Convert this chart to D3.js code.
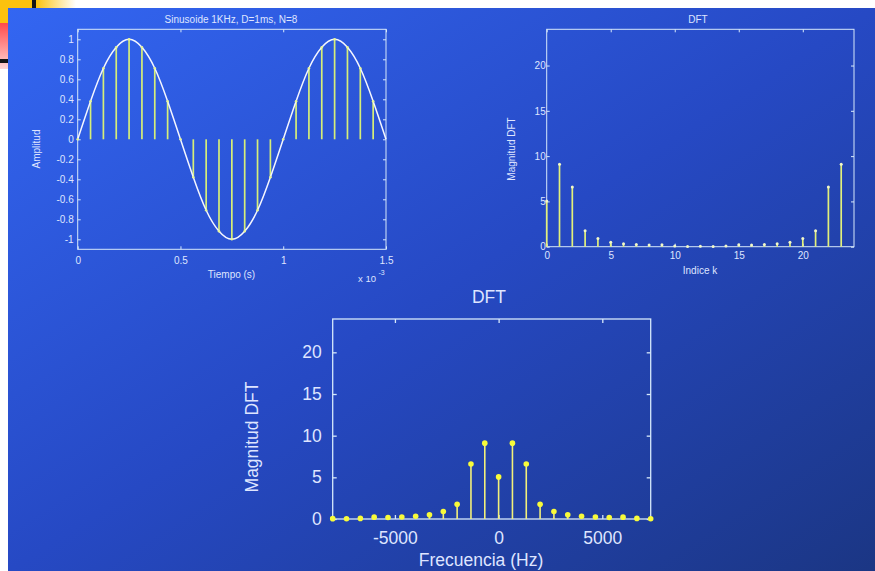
<!DOCTYPE html>
<html><head><meta charset="utf-8">
<script src="https://cdn.jsdelivr.net/npm/d3@7"></script>
<style>html,body{margin:0;padding:0;background:#fff;}svg{display:block;}</style>
</head><body>
<svg id="c" width="875" height="571"></svg>
<script>
// ---------- data ----------
const timeTicks = [0, 0.5, 1, 1.5];
const timeTickLabels = ["0", "0.5", "1", "1.5"];
const ampTicks = [-1, -0.8, -0.6, -0.4, -0.2, 0, 0.2, 0.4, 0.6, 0.8, 1];
const ampTickLabels = ["-1", "-0.8", "-0.6", "-0.4", "-0.2", "0", "0.2", "0.4", "0.6", "0.8", "1"];
const sampleTimes = [0, 0.0625, 0.125, 0.1875, 0.25, 0.3125, 0.375, 0.4375, 0.5, 0.5625, 0.625, 0.6875,
  0.75, 0.8125, 0.875, 0.9375, 1, 1.0625, 1.125, 1.1875, 1.25, 1.3125, 1.375, 1.4375];
const sampleValues = [0, 0.38, 0.71, 0.92, 1, 0.92, 0.71, 0.38, 0, -0.38, -0.71, -0.92,
  -1, -0.92, -0.71, -0.38, 0, 0.38, 0.71, 0.92, 1, 0.92, 0.71, 0.38];
const curveTimes = [0, 0.0625, 0.125, 0.1875, 0.25, 0.3125, 0.375, 0.4375, 0.5, 0.5625, 0.625, 0.6875,
  0.75, 0.8125, 0.875, 0.9375, 1, 1.0625, 1.125, 1.1875, 1.25, 1.3125, 1.375, 1.4375, 1.5];
const curveValues = [0, 0.38, 0.71, 0.92, 1, 0.92, 0.71, 0.38, 0, -0.38, -0.71, -0.92,
  -1, -0.92, -0.71, -0.38, 0, 0.38, 0.71, 0.92, 1, 0.92, 0.71, 0.38, 0];

const kIndex = [0,1,2,3,4,5,6,7,8,9,10,11,12,13,14,15,16,17,18,19,20,21,22,23];
const dftMag = [5.05, 9.1, 6.6, 1.76, 0.9, 0.5, 0.33, 0.24, 0.18, 0.22, 0.07, 0.03,
  0.04, 0.03, 0.07, 0.22, 0.18, 0.24, 0.33, 0.5, 0.9, 1.76, 6.6, 9.1];
const kTicks = [0, 5, 10, 15, 20];
const kTickLabels = ["0", "5", "10", "15", "20"];
const magTicks = [0, 5, 10, 15, 20];
const magTickLabels = ["0", "5", "10", "15", "20"];

const freqHz = [-8000, -7333.33, -6666.67, -6000, -5333.33, -4666.67, -4000, -3333.33, -2666.67, -2000,
  -1333.33, -666.67, 0, 666.67, 1333.33, 2000, 2666.67, 3333.33, 4000, 4666.67, 5333.33, 6000, 6666.67, 7333.33];
const freqMag = [0.04, 0.03, 0.07, 0.22, 0.18, 0.24, 0.33, 0.5, 0.9, 1.76, 6.6, 9.1,
  5.05, 9.1, 6.6, 1.76, 0.9, 0.5, 0.33, 0.24, 0.18, 0.22, 0.07, 0.03];
const freqTicks = [-5000, 0, 5000];
const freqTickLabels = ["-5000", "0", "5000"];

// ---------- style ----------
const FONT = "'Liberation Sans', Arial, Helvetica, sans-serif";
const AX = "#d6e8fb";
const TXT = "#dfe5ff";

const svg = d3.select("#c");
const defs = svg.append("defs");

// slide decoration
const gy = defs.append("linearGradient").attr("id","gy").attr("x1",0).attr("x2",1).attr("y1",0).attr("y2",0);
gy.append("stop").attr("offset",0).attr("stop-color","#fcc20e");
gy.append("stop").attr("offset",1).attr("stop-color","#ffffff");
const gr = defs.append("linearGradient").attr("id","gr").attr("x1",0).attr("x2",0).attr("y1",0).attr("y2",1);
gr.append("stop").attr("offset",0).attr("stop-color","#ff4a4a");
gr.append("stop").attr("offset",1).attr("stop-color","#ffd6d6");
const gb = defs.append("linearGradient").attr("id","gb").attr("x1",0).attr("y1",0).attr("x2",1).attr("y2",1);
gb.append("stop").attr("offset",0).attr("stop-color","#3366f2");
gb.append("stop").attr("offset",0.5).attr("stop-color","#2649c4");
gb.append("stop").attr("offset",1).attr("stop-color","#1b3684");

svg.append("rect").attr("x",36).attr("y",0).attr("width",40).attr("height",8).attr("fill","url(#gy)");
svg.append("rect").attr("x",0).attr("y",0).attr("width",32).attr("height",23).attr("fill","#fcc20e");
svg.append("rect").attr("x",0).attr("y",23).attr("width",32).attr("height",46).attr("fill","url(#gr)");
svg.append("rect").attr("x",32).attr("y",0).attr("width",4).attr("height",8).attr("fill","#141414");
svg.append("rect").attr("x",0).attr("y",59).attr("width",36).attr("height",4).attr("fill","#141414");
svg.append("rect").attr("x",8).attr("y",8).attr("width",867).attr("height",563).attr("fill","url(#gb)");

// ---------- helpers ----------
function frame(g, x, y, xt, xl, yt, yl, o) {
  const [x0, x1] = x.range(), [yb, ytop] = y.range();
  g.append("rect").attr("x",x0).attr("y",ytop).attr("width",x1-x0).attr("height",yb-ytop)
    .attr("fill","none").attr("stroke",AX).attr("stroke-width",o.sw);
  const style = a => {
    a.select(".domain").remove();
    a.selectAll(".tick line").attr("stroke",AX).attr("stroke-width",o.sw);
    a.selectAll("text").attr("fill",TXT).attr("font-size",o.fs).attr("font-family",FONT);
    a.attr("font-family",FONT);
  };
  g.append("g").attr("transform",`translate(0,${yb})`)
    .call(d3.axisBottom(x).tickValues(xt).tickSize(-o.tl).tickPadding(o.xpad).tickFormat((d,i)=>xl[i])).call(style);
  g.append("g").attr("transform",`translate(0,${ytop})`)
    .call(d3.axisTop(x).tickValues(xt).tickSize(-o.tl).tickFormat("")).call(style);
  g.append("g").attr("transform",`translate(${x0},0)`)
    .call(d3.axisLeft(y).tickValues(yt).tickSize(-o.tl).tickPadding(o.ypad).tickFormat((d,i)=>yl[i])).call(style);
  g.append("g").attr("transform",`translate(${x1},0)`)
    .call(d3.axisRight(y).tickValues(yt).tickSize(-o.tl).tickFormat("")).call(style);
}
function text(g, s, x, y, fs, anchor, rot) {
  const t = g.append("text").attr("x",x).attr("y",y).attr("fill",TXT).attr("font-size",fs)
    .attr("font-family",FONT).attr("text-anchor",anchor||"middle").text(s);
  if (rot) t.attr("transform",`rotate(${rot},${x},${y})`);
  return t;
}

// ---------- chart 1: sinusoid ----------
const g1 = svg.append("g");
const x1 = d3.scaleLinear().domain([0,1.5]).range([77.7,386]);
const y1 = d3.scaleLinear().domain([-1.1,1.1]).range([249.3,29.3]);
frame(g1, x1, y1, timeTicks, timeTickLabels, ampTicks, ampTickLabels, {sw:1, tl:3, fs:10, xpad:8, ypad:4});
g1.selectAll("line.stem").data(sampleValues).join("line").attr("class","stem")
  .attr("x1",(d,i)=>x1(sampleTimes[i])).attr("x2",(d,i)=>x1(sampleTimes[i]))
  .attr("y1",y1(0)).attr("y2",d=>y1(d)).attr("stroke","#d6ee78").attr("stroke-width",1.7);
g1.append("path").datum(curveValues)
  .attr("d", d3.line().x((d,i)=>x1(curveTimes[i])).y(d=>y1(d)).curve(d3.curveNatural))
  .attr("fill","none").attr("stroke","#f4f6ff").attr("stroke-width",1.5);
g1.selectAll("circle.mk").data(sampleValues).join("circle").attr("class","mk")
  .attr("cx",(d,i)=>x1(sampleTimes[i])).attr("cy",d=>y1(d)).attr("r",1.3).attr("fill","#e6f59a");
text(g1, "Sinusoide 1KHz, D=1ms, N=8", 231, 23, 10);
text(g1, "Tiempo (s)", 231.5, 277.5, 10);
text(g1, "Amplitud", 40, 149, 10, "middle", -90);
text(g1, "x 10", 358, 282, 9.5, "start");
text(g1, "-3", 378.5, 275, 7, "start");

// ---------- chart 2: DFT vs k ----------
const g2 = svg.append("g");
const x2 = d3.scaleLinear().domain([0,24]).range([546.7,854]);
const y2 = d3.scaleLinear().domain([0,24]).range([246.7,29.3]);
frame(g2, x2, y2, kTicks, kTickLabels, magTicks, magTickLabels, {sw:1, tl:3, fs:10, xpad:5, ypad:1});
g2.selectAll("line.stem").data(dftMag).join("line").attr("class","stem")
  .attr("x1",(d,i)=>x2(kIndex[i])).attr("x2",(d,i)=>x2(kIndex[i]))
  .attr("y1",y2(0)).attr("y2",d=>y2(d)).attr("stroke","#e2f07a").attr("stroke-width",1.7);
g2.selectAll("circle.mk").data(dftMag).join("circle").attr("class","mk")
  .attr("cx",(d,i)=>x2(kIndex[i])).attr("cy",d=>y2(d)).attr("r",1.5).attr("fill","#f2f8c8");
text(g2, "DFT", 698, 23, 10);
text(g2, "Indice k", 700, 274, 10);
text(g2, "Magnitud DFT", 515, 149, 10, "middle", -90);

// ---------- chart 3: DFT vs frequency ----------
const g3 = svg.append("g");
const x3 = d3.scaleLinear().domain([-8000,7333.33]).range([332.7,650.7]);
const y3 = d3.scaleLinear().domain([0,24]).range([519,319]);
frame(g3, x3, y3, freqTicks, freqTickLabels, magTicks, magTickLabels, {sw:1.3, tl:4, fs:17.5, xpad:13, ypad:11});
g3.selectAll("line.stem").data(freqMag).join("line").attr("class","stem")
  .attr("x1",(d,i)=>x3(freqHz[i])).attr("x2",(d,i)=>x3(freqHz[i]))
  .attr("y1",y3(0)).attr("y2",d=>y3(d)).attr("stroke","#f2f07a").attr("stroke-width",1.6);
g3.selectAll("circle.mk").data(freqMag).join("circle").attr("class","mk")
  .attr("cx",(d,i)=>x3(freqHz[i])).attr("cy",d=>y3(d)).attr("r",2.8).attr("fill","#f8fb3a");
text(g3, "DFT", 489, 303, 17.5);
text(g3, "Frecuencia (Hz)", 481, 566, 17.5);
text(g3, "Magnitud DFT", 258, 437, 17.5, "middle", -90);
</script>
</body></html>
